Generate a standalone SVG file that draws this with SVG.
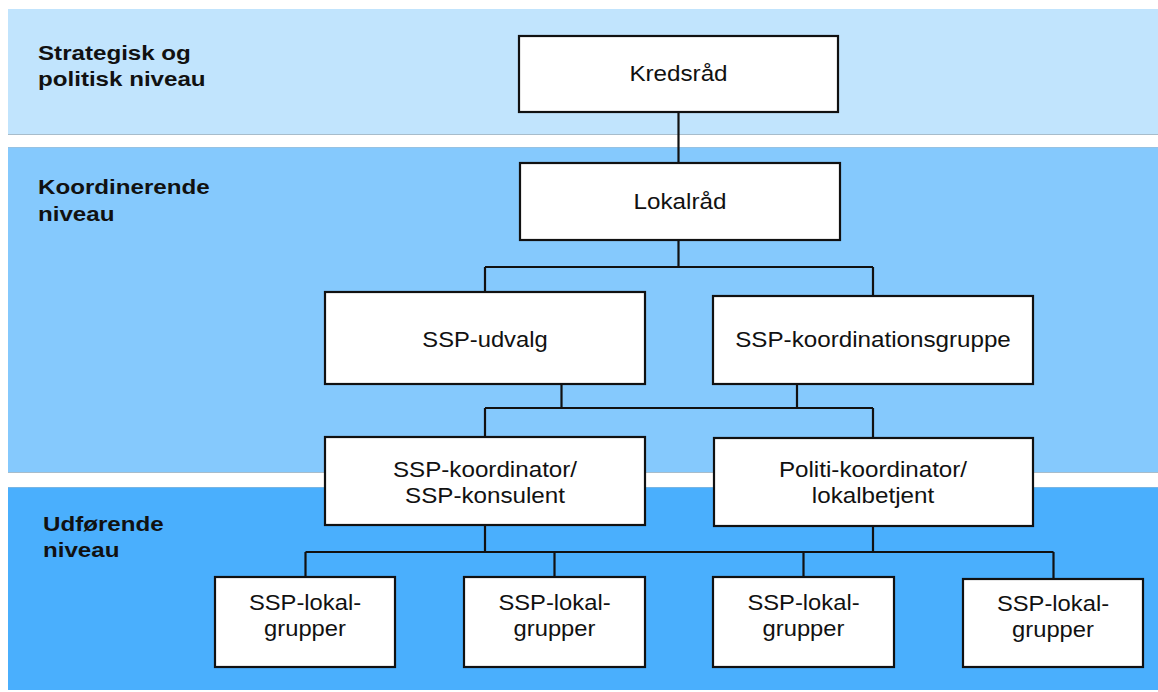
<svg xmlns="http://www.w3.org/2000/svg" width="1158" height="692" viewBox="0 0 1158 692">
<style>
.sep{stroke:#a7bccb;stroke-width:1}
.box{fill:#ffffff;stroke:#111111;stroke-width:2.2}
.conn{fill:none;stroke:#111111;stroke-width:2.2}
.t{font-family:"Liberation Sans",Arial,sans-serif;font-size:22px;fill:#111111;text-anchor:middle}
.lbl{font-family:"Liberation Sans",Arial,sans-serif;font-size:21px;font-weight:bold;fill:#111111}
</style>
<rect width="1158" height="692" fill="#ffffff"/>
<g id="bands">
<rect x="8" y="9" width="1150" height="125" fill="#c1e4fd"/>
<rect x="8" y="147" width="1150" height="326" fill="#85c9fd"/>
<rect x="8" y="487" width="1150" height="203" fill="#4aaffd"/>
<path class="sep" d="M8 134.5 H1158"/>
<path class="sep" d="M8 147.5 H1158" opacity="0.5"/>
<path class="sep" d="M8 472.5 H1158"/>
<path class="sep" d="M8 487.5 H1158" opacity="0.5"/>
</g>
<g id="level-labels">
<text class="lbl" transform="translate(38 60) scale(1.15 1)"><tspan x="0" y="0">Strategisk og</tspan><tspan x="0" y="26">politisk niveau</tspan></text>
<text class="lbl" transform="translate(38 194) scale(1.15 1)"><tspan x="0" y="0">Koordinerende</tspan><tspan x="0" y="27">niveau</tspan></text>
<text class="lbl" transform="translate(43 531) scale(1.15 1)"><tspan x="0" y="0">Udførende</tspan><tspan x="0" y="26">niveau</tspan></text>
</g>
<g id="connectors">
<path class="conn" d="M678.5 112 V163"/>
<path class="conn" d="M678.5 240 V267 M485 267 H873 M485 267 V292 M873 267 V296"/>
<path class="conn" d="M561.5 384 V408 M797 384 V408 M485 408 H873 M485 408 V437 M873 408 V438"/>
<path class="conn" d="M485 525 V552 M873 526 V552 M305.5 552 H1053.5 M305.5 552 V577 M554.5 552 V577 M803.5 552 V577 M1053.5 552 V579"/>
</g>
<g id="kredsraad">
<rect class="box" x="519" y="36" width="319" height="76"/>
<text class="t" transform="translate(678.5 81) scale(1.1 1)">Kredsråd</text>
</g>
<g id="lokalraad">
<rect class="box" x="520" y="163" width="320" height="77"/>
<text class="t" transform="translate(680 209) scale(1.1 1)">Lokalråd</text>
</g>
<g id="ssp-udvalg">
<rect class="box" x="325" y="292" width="320" height="92"/>
<text class="t" transform="translate(485 347) scale(1.08 1)">SSP-udvalg</text>
</g>
<g id="ssp-koordinationsgruppe">
<rect class="box" x="713" y="296" width="320" height="88"/>
<text class="t" transform="translate(873 347) scale(1.1 1)">SSP-koordinationsgruppe</text>
</g>
<g id="ssp-koordinator">
<rect class="box" x="325" y="437" width="320" height="88"/>
<text class="t" transform="translate(485 477) scale(1.1 1)"><tspan x="0" y="0">SSP-koordinator/</tspan><tspan x="0" y="26">SSP-konsulent</tspan></text>
</g>
<g id="politi-koordinator">
<rect class="box" x="714" y="438" width="319" height="88"/>
<text class="t" transform="translate(873 477) scale(1.1 1)"><tspan x="0" y="0">Politi-koordinator/</tspan><tspan x="0" y="26">lokalbetjent</tspan></text>
</g>
<g id="ssp-lokalgrupper-1">
<rect class="box" x="215" y="577" width="180" height="90"/>
<text class="t" transform="translate(305 610) scale(1.08 1)"><tspan x="0" y="0">SSP-lokal-</tspan><tspan x="0" y="26">grupper</tspan></text>
</g>
<g id="ssp-lokalgrupper-2">
<rect class="box" x="464" y="577" width="181" height="90"/>
<text class="t" transform="translate(554.5 610) scale(1.08 1)"><tspan x="0" y="0">SSP-lokal-</tspan><tspan x="0" y="26">grupper</tspan></text>
</g>
<g id="ssp-lokalgrupper-3">
<rect class="box" x="713" y="577" width="181" height="90"/>
<text class="t" transform="translate(803.5 610) scale(1.08 1)"><tspan x="0" y="0">SSP-lokal-</tspan><tspan x="0" y="26">grupper</tspan></text>
</g>
<g id="ssp-lokalgrupper-4">
<rect class="box" x="963" y="579" width="180" height="88"/>
<text class="t" transform="translate(1053 611) scale(1.08 1)"><tspan x="0" y="0">SSP-lokal-</tspan><tspan x="0" y="26">grupper</tspan></text>
</g>
</svg>
